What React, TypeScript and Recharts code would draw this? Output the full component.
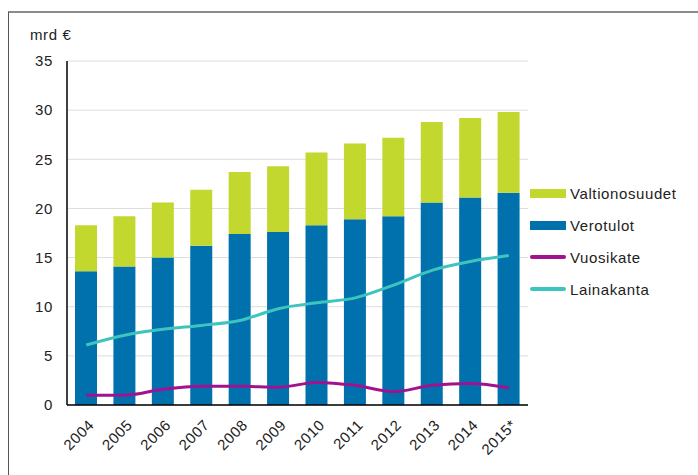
import React from "react";
import { ComposedChart, Bar, Line, XAxis, YAxis, CartesianGrid } from "recharts";

const years = ["2004", "2005", "2006", "2007", "2008", "2009", "2010", "2011", "2012", "2013", "2014", "2015*"];
const verotulot = [13.6, 14.1, 15.0, 16.2, 17.4, 17.6, 18.3, 18.9, 19.2, 20.6, 21.1, 21.6];
const valtionosuudet = [4.7, 5.1, 5.6, 5.7, 6.3, 6.7, 7.4, 7.7, 8.0, 8.2, 8.1, 8.2];
const vuosikate = [1.0, 1.0, 1.6, 1.9, 1.9, 1.8, 2.3, 2.0, 1.35, 2.0, 2.2, 1.75];
const lainakanta = [6.1, 7.1, 7.7, 8.1, 8.6, 9.8, 10.4, 10.9, 12.2, 13.7, 14.6, 15.2];
const yTicks = [0, 5, 10, 15, 20, 25, 30, 35];

const data = years.map((y, i) => ({
  year: y,
  Verotulot: verotulot[i],
  Valtionosuudet: valtionosuudet[i],
  Vuosikate: vuosikate[i],
  Lainakanta: lainakanta[i],
}));

const C_GREEN = "#c2d82e";
const C_BLUE = "#0071ad";
const C_MAGENTA = "#a0128f";
const C_TEAL = "#3ec4be";
const FONT = "'Liberation Sans', Arial, sans-serif";
const FS = 15;
const LS = 0.6;

const legendItems = [
  { name: "Valtionosuudet", color: C_GREEN, kind: "bar" },
  { name: "Verotulot", color: C_BLUE, kind: "bar" },
  { name: "Vuosikate", color: C_MAGENTA, kind: "line" },
  { name: "Lainakanta", color: C_TEAL, kind: "line" },
];

const XTick = (props: any) => {
  const { x, y, payload } = props;
  return (
    <g transform={`translate(${x + 6},${y + 10})`}>
      <text
        x={0}
        y={0}
        textAnchor="end"
        transform="rotate(-45)"
        fontSize={FS}
        letterSpacing={LS}
        fill="#222"
        fontFamily={FONT}
        dy={4}
      >
        {payload.value}
      </text>
    </g>
  );
};

export default function App() {
  return (
    <div style={{ position: "fixed", left: 0, top: 0, width: 698, height: 475, background: "#fff" }}>
      <div
        style={{
          position: "absolute",
          left: 8,
          top: 11,
          width: 690,
          height: 464,
          borderTop: "2px solid #8c8c8c",
          borderLeft: "1px solid #555",
          boxSizing: "border-box",
        }}
      />
      <div
        style={{
          position: "absolute",
          left: 30,
          top: 26,
          fontFamily: FONT,
          fontSize: FS,
          letterSpacing: LS,
          color: "#222",
        }}
      >
        mrd €
      </div>
      <div
        style={{
          position: "absolute",
          left: 530,
          top: 177,
          fontFamily: FONT,
          fontSize: FS,
          letterSpacing: LS,
          color: "#222",
        }}
      >
        {legendItems.map((it) => (
          <div key={it.name} style={{ display: "flex", alignItems: "center", height: 32 }}>
            <div
              style={{
                width: 36,
                height: it.kind === "bar" ? 9 : 4,
                borderRadius: it.kind === "bar" ? 0 : 2,
                background: it.color,
                marginRight: 4,
              }}
            />
            <span>{it.name}</span>
          </div>
        ))}
      </div>
      <div style={{ position: "absolute", left: 0, top: 0 }}>
        <ComposedChart
          width={698}
          height={475}
          data={data}
          margin={{ top: 61, right: 170, bottom: 10, left: 27 }}
          barCategoryGap={0}
        >
          <CartesianGrid vertical={false} stroke="#dcdcdc" />
          <XAxis
            dataKey="year"
            tick={<XTick />}
            tickLine={false}
            axisLine={{ stroke: "#000", strokeWidth: 1.5 }}
            height={60}
            interval={0}
          />
          <YAxis
            domain={[0, 35]}
            ticks={yTicks}
            width={40}
            tickLine={false}
            tickMargin={8}
            axisLine={{ stroke: "#000", strokeWidth: 1.5 }}
            tick={{ fontSize: FS, fill: "#222", fontFamily: FONT, letterSpacing: LS }}
            interval={0}
          />
          <Bar dataKey="Verotulot" stackId="a" fill={C_BLUE} barSize={22} isAnimationActive={false} />
          <Bar dataKey="Valtionosuudet" stackId="a" fill={C_GREEN} barSize={22} isAnimationActive={false} />
          <Line
            type="monotone"
            dataKey="Vuosikate"
            stroke={C_MAGENTA}
            strokeWidth={3}
            dot={false}
            isAnimationActive={false}
          />
          <Line
            type="monotone"
            dataKey="Lainakanta"
            stroke={C_TEAL}
            strokeWidth={3}
            dot={false}
            isAnimationActive={false}
          />
        </ComposedChart>
      </div>
    </div>
  );
}
